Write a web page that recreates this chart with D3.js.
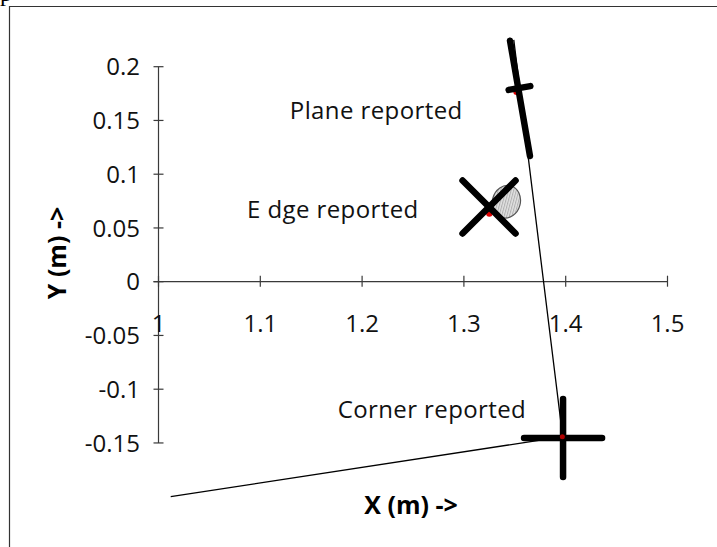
<!DOCTYPE html>
<html><head><meta charset="utf-8">
<script src="https://cdn.jsdelivr.net/npm/d3@7"></script>
<style>
html,body{margin:0;padding:0;background:#fff;}
svg{display:block;}
text{font-family:"Open Sans",sans-serif;}
</style></head>
<body>
<svg id="c" width="717" height="547"></svg>
<script>
// ---- data ----
const xTicks = [1, 1.1, 1.2, 1.3, 1.4, 1.5];
const yTicks = [0.2, 0.15, 0.1, 0.05, 0, -0.05, -0.1, -0.15];
const xTickLabels = ["1", "1.1", "1.2", "1.3", "1.4", "1.5"];
const yTickLabels = ["0.2", "0.15", "0.1", "0.05", "0", "-0.05", "-0.1", "-0.15"];
// thin path (walls)
const wallX = [1.012, 1.397, 1.349];
const wallY = [-0.2, -0.1442, 0.225];
// plane reported: segment, crossbar centre, point
const planeSegX = [1.3453, 1.3649];
const planeSegY = [0.2242, 0.1169];
const planeBar = [1.3546, 0.1802];
const planePoint = [1.3517, 0.1767];
// edge reported
const edgeCross = [1.3247, 0.0695];
const edgePoint = [1.325, 0.0634];
const edgeEllipse = [1.3417, 0.0744];
// corner reported
const cornerCross = [1.3974, -0.1455];
const cornerPoint = [1.3967, -0.1442];
const labels = ["Plane reported", "E dge reported", "Corner reported"];
const labelPos = [[1.129, 0.1518], [1.087, 0.0597], [1.176, -0.1264]];
const xTitle = "X (m) ->";
const yTitle = "Y (m) ->";

// ---- drawing ----
const svg = d3.select("#c");
const x = d3.scaleLinear().domain([1, 1.5]).range([158.5, 667.5]);
const y = d3.scaleLinear().domain([-0.15, 0.2]).range([442.95, 66.7]);

// frame + clipped glyph
svg.append("line").attr("x1", 9.5).attr("x2", 9.5).attr("y1", 6).attr("y2", 547).attr("stroke", "#333").attr("stroke-width", 1.2);
svg.append("line").attr("x1", 9).attr("x2", 717).attr("y1", 6.5).attr("y2", 6.5).attr("stroke", "#333").attr("stroke-width", 1.2);
svg.append("text").attr("x", 0).attr("y", 1).style("font-family", "Liberation Serif").style("font-size", "24px").text("p");

const axCol = "#3a3a3a";
// y axis
svg.append("line").attr("x1", x(1)).attr("x2", x(1)).attr("y1", y(0.2)).attr("y2", y(-0.15)).attr("stroke", axCol).attr("stroke-width", 1.2);
svg.selectAll(".yt").data(yTicks).enter().append("line")
  .attr("x1", x(1) - 5).attr("x2", x(1) + 5).attr("y1", d => y(d)).attr("y2", d => y(d))
  .attr("stroke", axCol).attr("stroke-width", 1.2);
svg.selectAll(".yl").data(yTicks).enter().append("text")
  .attr("x", 140).attr("y", d => y(d)).attr("dy", "0.36em").attr("text-anchor", "end")
  .style("font-size", "24px").attr("fill", "#111").text((d, i) => yTickLabels[i]);
// x axis
svg.append("line").attr("x1", x(1) - 5).attr("x2", x(1.5)).attr("y1", y(0)).attr("y2", y(0)).attr("stroke", axCol).attr("stroke-width", 1.2);
svg.selectAll(".xt").data(xTicks).enter().append("line")
  .attr("x1", d => x(d)).attr("x2", d => x(d)).attr("y1", y(0) - 6).attr("y2", y(0) + 5)
  .attr("stroke", axCol).attr("stroke-width", 1.2);
svg.selectAll(".xl").data(xTicks).enter().append("text")
  .attr("x", d => x(d)).attr("y", 332).attr("text-anchor", "middle")
  .style("font-size", "24px").attr("fill", "#111").text((d, i) => xTickLabels[i]);

// axis titles
svg.append("text").attr("x", 411).attr("y", 514).attr("text-anchor", "middle")
  .style("font-size", "25px").style("font-weight", "bold").text(xTitle);
svg.append("text").attr("transform", "translate(66,253) rotate(-90)").attr("text-anchor", "middle")
  .style("font-size", "25px").style("font-weight", "bold").text(yTitle);

// thin wall path
const wall = wallX.map((v, i) => [v, wallY[i]]);
svg.append("path").attr("d", d3.line().x(d => x(d[0])).y(d => y(d[1]))(wall))
  .attr("fill", "none").attr("stroke", "#000").attr("stroke-width", 1.3);

// hatch pattern for ellipse
const defs = svg.append("defs");
const pat = defs.append("pattern").attr("id", "hatch").attr("patternUnits", "userSpaceOnUse").attr("width", 2.5).attr("height", 4);
pat.append("rect").attr("width", 2.5).attr("height", 4).attr("fill", "#e2e2e2");
pat.append("line").attr("x1", 0.6).attr("x2", 0.6).attr("y1", 0).attr("y2", 4).attr("stroke", "#9a9a9a").attr("stroke-width", 0.8);

// edge ellipse
svg.append("ellipse").attr("cx", x(edgeEllipse[0])).attr("cy", y(edgeEllipse[1])).attr("rx", 14).attr("ry", 16.5)
  .attr("transform", `rotate(15 ${x(edgeEllipse[0])} ${y(edgeEllipse[1])})`)
  .attr("fill", "url(#hatch)").attr("stroke", "#555").attr("stroke-width", 1.2);

const thick = (x1, y1, x2, y2) => svg.append("line").attr("x1", x1).attr("y1", y1).attr("x2", x2).attr("y2", y2)
  .attr("stroke", "#000").attr("stroke-width", 6.5).attr("stroke-linecap", "round");
const red = p => svg.append("circle").attr("cx", x(p[0])).attr("cy", y(p[1])).attr("r", 3.2).attr("fill", "#e00000");

// plane
red(planePoint);
thick(x(planeSegX[0]), y(planeSegY[0]), x(planeSegX[1]), y(planeSegY[1]));
{
  const dx = x(planeSegX[1]) - x(planeSegX[0]), dy = y(planeSegY[1]) - y(planeSegY[0]);
  const L = Math.hypot(dx, dy), px = dy / L, py = -dx / L, h = 11;
  const cx = x(planeBar[0]), cy = y(planeBar[1]);
  thick(cx - px * h, cy - py * h, cx + px * h, cy + py * h);
}
// edge X
red(edgePoint);
{
  const cx = x(edgeCross[0]), cy = y(edgeCross[1]), a = 26.5;
  thick(cx - a, cy - a, cx + a, cy + a);
  thick(cx + a, cy - a, cx - a, cy + a);
}
// corner +
{
  const cx = x(cornerCross[0]), cy = y(cornerCross[1]), a = 39;
  thick(cx - a, cy, cx + a, cy);
  thick(cx, cy - a, cx, cy + a);
}
svg.append("circle").attr("cx", x(cornerPoint[0])).attr("cy", y(cornerPoint[1])).attr("r", 2.5).attr("fill", "#b00000");

// labels
svg.selectAll(".lab").data(labels).enter().append("text")
  .attr("x", (d, i) => x(labelPos[i][0])).attr("y", (d, i) => y(labelPos[i][1]))
  .style("font-size", "24px").style("letter-spacing", "0.4px").attr("fill", "#111").text(d => d);
</script>
</body></html>
